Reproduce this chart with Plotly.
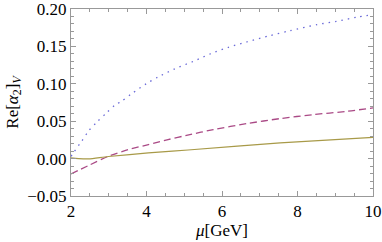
import plotly.graph_objects as go

mu_blue = [2.0, 2.06, 2.28, 2.46, 2.68, 2.94, 3.16, 3.34, 3.60, 4.00, 4.31, 4.75, 5.24, 5.69, 6.17, 6.66, 7.27, 7.80, 8.51, 9.04, 9.57, 10.0]
re_blue = [0.003, 0.0076, 0.0231, 0.0365, 0.0485, 0.0611, 0.0713, 0.0766, 0.0865, 0.1003, 0.1092, 0.120, 0.130, 0.140, 0.1488, 0.156, 0.1644, 0.171, 0.179, 0.1836, 0.189, 0.1925]

mu_mag = [2.0, 2.46, 2.99, 3.52, 4.05, 4.57, 5.06, 5.77, 6.66, 7.54, 8.42, 9.30, 10.0]
re_mag = [-0.0205, -0.0094, 0.0031, 0.012, 0.0187, 0.0254, 0.031, 0.0388, 0.0468, 0.0535, 0.0588, 0.0632, 0.0678]

mu_yel = [2.0, 2.2, 2.46, 2.99, 4.05, 5.1, 7.54, 10.0]
re_yel = [0.001, 0.0, -0.0004, 0.0028, 0.0076, 0.0115, 0.021, 0.0285]

x_ticks = [2, 4, 6, 8, 10]
y_ticks = [-0.05, 0.0, 0.05, 0.10, 0.15, 0.20]
y_tick_labels = ["\u22120.05", "0.00", "0.05", "0.10", "0.15", "0.20"]

fig = go.Figure()
fig.add_trace(go.Scatter(x=mu_blue, y=re_blue, mode="lines", line=dict(color="#6a6ad8", width=1.3, dash="1.5px,5px", shape="spline", smoothing=0.8)))
fig.add_trace(go.Scatter(x=mu_mag, y=re_mag, mode="lines", line=dict(color="#aa4a86", width=1.3, dash="7px,4px", shape="spline", smoothing=0.8)))
fig.add_trace(go.Scatter(x=mu_yel, y=re_yel, mode="lines", line=dict(color="#a89a48", width=1.2, shape="spline", smoothing=0.8)))

font = dict(family="Liberation Serif", size=17, color="black")
axis_common = dict(showgrid=False, zeroline=False, showline=True, linecolor="#999999", linewidth=1,
                   mirror="allticks", ticks="inside", ticklen=5, tickcolor="#999999", tickfont=font,
                   ticklabeloverflow="allow")
fig.update_xaxes(range=[2, 10], tickvals=x_ticks, ticktext=[str(v) for v in x_ticks],
                 minor=dict(dtick=0.5, ticks="inside", ticklen=3, tickcolor="#999999"),
                 title=dict(text="<i>μ</i>[GeV]", font=font, standoff=2), **axis_common)
fig.update_yaxes(range=[-0.05, 0.20], tickvals=y_ticks, ticktext=y_tick_labels,
                 minor=dict(dtick=0.01, ticks="inside", ticklen=3, tickcolor="#999999"),
                 title=dict(text="Re[<i>α</i><sub>2</sub>]<sub><i>V</i></sub>", font=font, standoff=4), **axis_common)
fig.update_layout(width=382, height=242, margin=dict(l=71, r=9, t=9, b=46, autoexpand=False),
                  paper_bgcolor="white", plot_bgcolor="white", showlegend=False, font=font)
fig.write_html("out.html", config={"displayModeBar": False},
               post_script="document.body.style.margin='0';document.body.style.overflow='hidden';")
